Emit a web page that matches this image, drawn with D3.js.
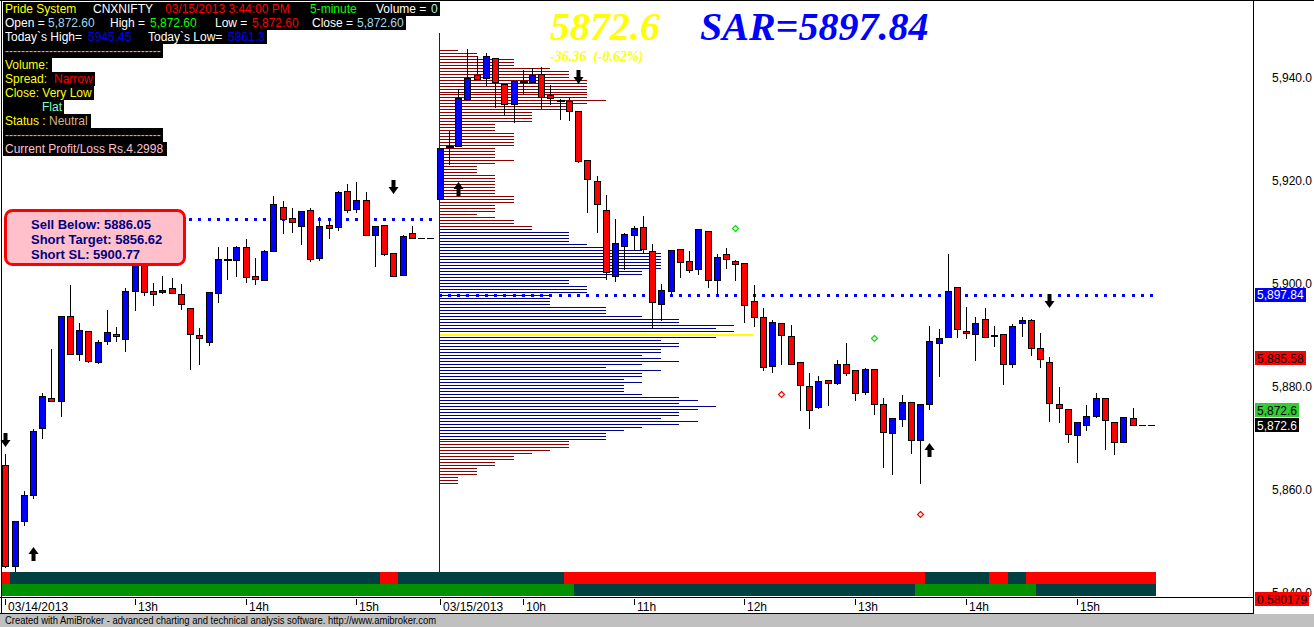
<!DOCTYPE html>
<html><head><meta charset="utf-8"><title>Pride System - CNXNIFTY</title>
<script src="https://cdn.jsdelivr.net/npm/d3@7"></script>
<style>
html,body{margin:0;padding:0;background:#fff;overflow:hidden}
svg{display:block}
text{white-space:pre}
</style></head><body>
<svg id="chart" width="1314" height="627"></svg>
<script>
// ================= DATA =================
// 5-minute bars: 03/14/2013 11:50-15:40 (47 bars) then 03/15/2013 09:15-15:40 (78 bars)
const barOpen = [
 5864.8,5845.3,5854.0,5859.0,5872.1,5877.8,5877.2,5893.8,5886.3,5890.9,
 5884.9,5889.0,5890.2,5889.3,5898.7,5906.5,5898.7,5898.5,5899.1,5898.1,
 5895.4,5890.1,5888.8,5898.3,5904.6,5904.6,5907.1,5901.6,5900.8,5906.3,
 5915.0,5912.7,5911.3,5914.4,5905.0,5911.5,5911.0,5918.1,5914.6,5916.2,
 5909.4,5911.5,5905.9,5901.8,5909.8,5908.8,5908.8,
 5916.5,5926.5,5926.8,5935.8,5940.45,5939.95,5943.85,5938.85,5934.8,5939.15,
 5939.15,5940.75,5936.55,5935.5,5935.45,5933.5,5923.95,5920.0,5914.4,5901.5,
 5907.3,5909.4,5911.0,5906.3,5896.0,5898.7,5906.7,5904.5,5902.8,5910.2,
 5900.8,5905.8,5904.5,5904.1,5896.6,5893.65,5884.0,5892.35,5889.95,5884.9,
 5880.1,5876.05,5881.3,5880.7,5884.5,5883.2,5878.95,5883.4,5876.75,5871.0,
 5873.7,5877.05,5869.8,5876.65,5888.45,5889.65,5899.3,5890.95,5890.35,5893.25,
 5889.85,5890.35,5884.5,5892.35,5893.05,5887.65,5884.9,5876.75,5875.65,5870.6,
 5872.7,5874.4,5877.95,5873.3,5869.4,5874.0,5872.6,5872.6];
const barHigh = [
 5867.0,5854.0,5859.8,5871.9,5878.8,5887.3,5893.8,5899.7,5892.5,5890.9,
 5889.1,5895.0,5891.7,5899.1,5907.5,5907.0,5900.2,5901.6,5901.2,5899.9,
 5895.4,5891.5,5898.5,5907.1,5907.1,5907.4,5908.7,5905.1,5906.6,5917.0,
 5916.0,5914.8,5914.2,5914.8,5912.9,5912.7,5918.1,5919.3,5919.7,5917.9,
 5911.3,5911.5,5905.9,5909.5,5911.3,5908.8,5908.8,
 5926.3,5929.7,5937.7,5945.45,5944.15,5944.85,5943.85,5938.85,5939.25,5941.55,
 5941.85,5942.05,5938.65,5935.85,5935.95,5933.5,5923.95,5921.0,5917.2,5912.6,
 5909.9,5911.3,5913.2,5907.7,5899.9,5906.5,5906.7,5906.3,5910.6,5910.2,
 5905.8,5906.9,5904.7,5904.1,5899.7,5895.4,5893.05,5892.35,5891.95,5884.9,
 5882.8,5882.2,5881.3,5885.3,5888.45,5883.2,5883.6,5883.4,5877.95,5873.9,
 5878.35,5877.15,5876.75,5891.75,5891.15,5905.75,5899.3,5895.5,5893.65,5895.4,
 5891.75,5890.35,5892.15,5893.65,5893.25,5890.55,5885.75,5880.05,5875.65,5873.3,
 5876.45,5878.75,5877.95,5873.3,5874.2,5876.0,5872.6,5872.6];
const barLow = [
 5845.0,5844.2,5853.2,5858.4,5870.1,5877.2,5874.4,5886.3,5885.2,5884.9,
 5884.7,5888.3,5889.0,5887.0,5895.0,5897.8,5895.9,5898.3,5898.3,5895.2,
 5883.5,5884.5,5888.1,5896.5,5901.0,5901.5,5900.4,5900.0,5900.8,5906.3,
 5909.9,5910.1,5907.7,5904.4,5904.6,5908.8,5910.4,5914.0,5914.0,5909.4,
 5903.5,5905.5,5901.6,5901.8,5908.8,5908.8,5908.8,
 5916.5,5923.3,5926.8,5935.6,5939.75,5938.65,5934.3,5933.0,5931.4,5936.75,
 5939.15,5934.1,5934.95,5931.9,5931.7,5923.65,5914.0,5910.1,5901.0,5900.6,
 5902.8,5906.5,5906.1,5891.35,5893.05,5897.6,5901.3,5902.2,5902.0,5899.3,
 5897.8,5903.0,5900.8,5892.65,5891.85,5883.2,5882.9,5884.5,5884.5,5875.55,
 5872.0,5875.85,5876.45,5880.5,5882.4,5877.55,5878.55,5874.8,5864.55,5863.05,
 5872.5,5867.1,5861.3,5875.75,5882.1,5889.65,5889.75,5889.55,5885.25,5889.65,
 5887.85,5880.55,5883.9,5889.95,5886.25,5883.9,5873.4,5873.2,5869.4,5865.5,
 5871.7,5874.1,5868.0,5867.0,5869.4,5872.6,5872.6,5872.6];
const barClose = [
 5845.3,5854.0,5859.0,5871.5,5878.2,5877.2,5893.8,5886.3,5891.1,5885.1,
 5888.8,5890.7,5889.8,5898.7,5907.0,5898.4,5898.1,5898.9,5898.3,5896.0,
 5890.3,5889.4,5898.5,5904.9,5904.6,5907.1,5901.3,5901.0,5906.4,5915.4,
 5912.5,5911.9,5914.2,5904.8,5911.3,5910.9,5917.9,5914.4,5916.2,5909.4,
 5911.3,5905.7,5901.6,5909.2,5908.8,5908.8,5908.8,
 5926.3,5926.5,5936.1,5940.0,5939.75,5944.15,5939.15,5934.8,5939.25,5939.15,
 5940.45,5936.25,5935.95,5935.5,5933.5,5923.85,5920.25,5915.4,5902.2,5907.9,
 5909.6,5910.8,5906.7,5896.4,5898.9,5906.5,5904.3,5902.6,5910.6,5900.8,
 5905.3,5904.9,5903.9,5895.8,5893.65,5883.8,5892.55,5890.15,5884.5,5880.3,
 5875.45,5881.1,5880.7,5884.5,5882.8,5878.75,5883.4,5876.65,5871.2,5873.9,
 5877.05,5869.8,5876.75,5888.85,5889.45,5898.7,5891.15,5890.55,5892.35,5889.65,
 5890.15,5884.5,5891.75,5893.05,5887.65,5885.35,5876.85,5875.85,5870.8,5873.3,
 5874.4,5877.95,5873.5,5869.4,5874.2,5872.6,5872.6,5872.6];

// day boundaries (bar index ranges) and SAR level per day
const dayStart = [0, 47];
const dayEnd = [46, 124];
const sarLevels = [5912.5, 5897.84];

// time axis
const timeLabels = ["03/14/2013","13h","14h","15h","03/15/2013","10h","11h","12h","13h","14h","15h"];
const timeLabelBars = [0,14,26,38,47,56,68,80,92,104,116];

// price axis
const priceTicks = [5940,5920,5900,5880,5860,5840];

// buy / sell arrows: bar index, direction, price at tip
const arrowBars = [0,3,42,49,62,100,113];
const arrowDirs = ["down","up","down","up","down","up","down"];
const arrowLevels = [5868.4,5849.0,5917.4,5919.8,5938.8,5869.1,5895.3];

// small diamonds
const diamondBars = [79,94,84,99];
const diamondLevels = [5910.9,5889.4,5878.7,5855.4];
const diamondColors = ["#00E000","#00E000","#FF0000","#FF0000"];

// volume-at-price profile of 03/15 (counts, listed from the top price level down)
const profileLow = 5861.3;
const profileStep = 0.580179;
const profileCounts = [
 1,2,2,4,4,4,6,7,7,7,8,8,8,8,8,8,8,9,
 8,7,7,5,5,5,5,3,3,3,4,4,4,4,4,3,3,3,3,4,3,2,2,2,3,3,3,3,3,3,3,4,4,4,3,3,3,2,3,4,4,5,
 5,7,7,7,7,8,9,11,12,12,12,12,12,12,11,11,9,7,7,8,8,8,6,6,6,6,9,9,9,11,13,13,16,15,16,17,15,
 12,13,13,12,12,11,12,13,11,9,12,11,11,10,11,10,10,10,11,13,14,13,15,14,13,13,12,14,13,11,10,9,9,9,
 7,7,7,6,5,4,4,3,3,2,2,2,1,1,1];
const valueAreaHigh = 5910.62;
const valueAreaLow = 5870.0;

// bottom ribbons (color, first bar, last bar)
const ribbonTop = [["red",0,0],["teal",1,40],["red",41,42],["teal",43,60],["red",61,99],["teal",100,106],["red",107,108],["teal",109,110],["red",111,124]];
const ribbonBottom = [["green",0,61],["teal",62,98],["green",99,111],["teal",112,124]];

// value boxes on the price axis
const valueBoxTexts = ["5,897.84","5,885.58","5,872.6","5,872.6"];
const valueBoxLevels = [5897.84,5885.58,5872.6,5872.6];
const valueBoxBg = ["#0000FF","#FF0000","#000000","#33CC33"];
const valueBoxFg = ["#FFFFFF","#000000","#FFFFFF","#000000"];

// ================= DRAW =================
const svg = d3.select("#chart");
const FONT = "'Liberation Sans', Arial, sans-serif";
svg.append("rect").attr("width",1314).attr("height",627).attr("fill","#fff");

const x = d3.scaleLinear().domain([0,124]).range([5.3,1151.06]);
const y = d3.scaleLinear().domain([5840,5940]).range([593.2,77.6]);
const cx = i => Math.round(x(i));
const yp = v => Math.round(y(v));

// ---- volume profile
const prof = profileCounts.map((c,i)=>({price: profileLow + (profileCounts.length-1-i)*profileStep, count:c}));
const poc = d3.maxIndex(prof, d=>d.count);
const px = d3.scaleLinear().domain([0,17]).range([440, 440+17*18.4]);
svg.append("g").attr("shape-rendering","crispEdges").selectAll("line").data(prof).join("line")
  .attr("x1",px(0)).attr("x2",d=>px(d.count))
  .attr("y1",d=>yp(d.price)+0.5).attr("y2",d=>yp(d.price)+0.5)
  .attr("stroke",(d,i)=> i===poc ? "#FFFF00" : (d.price>=valueAreaLow-0.05 && d.price<=valueAreaHigh+0.05) ? "#00008B" : "#8B0000")
  .attr("stroke-width",(d,i)=> i===poc ? 2 : 1);

// day separator
svg.append("line").attr("x1",439.5).attr("x2",439.5).attr("y1",33).attr("y2",572)
  .attr("stroke","#222").attr("shape-rendering","crispEdges");

// ---- SAR dotted lines
const dots = [];
sarLevels.forEach((v,d)=>{ for(let i=dayStart[d]; i<=dayEnd[d]; i++) dots.push({i, v}); });
svg.append("g").attr("shape-rendering","crispEdges").selectAll("rect").data(dots).join("rect")
  .attr("x",d=>cx(d.i)-1).attr("y",d=>yp(d.v)-1).attr("width",3).attr("height",3).attr("fill","#0000FF");

// ---- candles
const bars = barOpen.map((o,i)=>({i,o,h:barHigh[i],l:barLow[i],c:barClose[i]}));
const cg = svg.append("g").attr("shape-rendering","crispEdges");
bars.forEach(b=>{
  const X = cx(b.i);
  if (b.h === b.l) {
    cg.append("line").attr("x1",X-3).attr("x2",X+4).attr("y1",yp(b.c)+0.5).attr("y2",yp(b.c)+0.5).attr("stroke","#000");
    return;
  }
  cg.append("line").attr("x1",X+0.5).attr("x2",X+0.5).attr("y1",yp(b.h)).attr("y2",yp(b.l)+1).attr("stroke","#000");
  const top = yp(Math.max(b.o,b.c)), bot = yp(Math.min(b.o,b.c));
  if (b.o === b.c) {
    cg.append("rect").attr("x",X-3).attr("y",top-1).attr("width",8).attr("height",2).attr("fill","#000");
  } else {
    cg.append("rect").attr("x",X-2.5).attr("y",top+0.5).attr("width",6).attr("height",Math.max(bot-top,1))
      .attr("fill", b.c > b.o ? "#0000FF" : "#FF0000").attr("stroke","#000").attr("stroke-width",1);
  }
});

// ---- diamonds
svg.append("g").selectAll("path").data(diamondBars).join("path")
  .attr("d",(b,k)=>{const X=cx(b)+0.5, Y=yp(diamondLevels[k])+0.5; return `M${X},${Y-3}L${X+3},${Y}L${X},${Y+3}L${X-3},${Y}Z`;})
  .attr("fill","none").attr("stroke",(b,k)=>diamondColors[k]).attr("stroke-width",1.2);

// ---- arrows
svg.append("g").selectAll("path").data(arrowBars).join("path")
  .attr("d",(b,k)=>{
    const X=cx(b)+0.5, T=yp(arrowLevels[k]), s = arrowDirs[k]==="up" ? 1 : -1;
    return `M${X},${T}L${X+5},${T+7*s}L${X+2},${T+7*s}L${X+2},${T+14*s}L${X-2},${T+14*s}L${X-2},${T+7*s}L${X-5},${T+7*s}Z`;
  }).attr("fill","#000");

// ---- label box
const lb = svg.append("g");
lb.append("rect").attr("x",5.5).attr("y",210.5).attr("width",179).attr("height",54).attr("rx",7)
  .attr("fill","#FFC0CB").attr("stroke","#FF0000").attr("stroke-width",3);
["Sell Below: 5886.05","Short Target: 5856.62","Short SL: 5900.77"].forEach((t,k)=>{
  lb.append("text").attr("x",31).attr("y",229+k*15).text(t)
    .attr("font-family",FONT).attr("font-weight","bold").attr("font-size",13).attr("fill","#000080");
});

// ---- header info panel
const headerRows = [
 [[5,"Pride System","#FFFF00"],[93,"CNXNIFTY","#FFFFFF"],[165,"03/15/2013 3:44:00 PM","#FF0000"],[310,"5-minute","#00FF00"],[376,"Volume =","#FFFFFF"],[431,"0","#B0F0F0"]],
 [[5,"Open =","#FFFFFF"],[48,"5,872.60","#A0D8F0"],[110,"High =","#FFFFFF"],[150,"5,872.60","#00FF00"],[215,"Low =","#FFFFFF"],[252,"5,872.60","#FF0000"],[312,"Close =","#FFFFFF"],[357,"5,872.60","#A0D8F0"]],
 [[5,"Today`s High=","#FFFFFF"],[88,"5945.45","#0000FF"],[148,"Today`s Low=","#FFFFFF"],[228,"5861.3","#0000FF"]],
 [[5,"---------------------------------------","#F4A0A0"]],
 [[5,"Volume:","#FFFF00"]],
 [[5,"Spread:","#FFFF00"],[54,"Narrow","#FF0000"]],
 [[5,"Close: Very Low","#FFFF00"]],
 [[42,"Flat","#80FFD0"]],
 [[5,"Status :","#FFFF00"],[49,"Neutral","#D2B48C"]],
 [[5,"---------------------------------------","#F4A0A0"]],
 [[5,"Current Profit/Loss Rs.4.2998","#FFC0CB"]]
];
const headerRight = [437,405,265,163,52,93,93,64,91,163,167];
const hg = svg.append("g");
headerRows.forEach((row,r)=>{
  const bg = hg.append("rect").attr("x",3).attr("y",2+14*r).attr("height",14).attr("fill","#000").attr("shape-rendering","crispEdges");
  let maxR = 0;
  row.forEach(([tx,t,col])=>{
    const te = hg.append("text").attr("x",tx).attr("y",12.5+14*r).text(t)
      .attr("font-family",FONT).attr("font-size",12).attr("fill",col);
    maxR = Math.max(maxR, tx + te.node().getComputedTextLength());
  });
  bg.attr("width", Math.max(headerRight[r], maxR+2) - 3);
});

// ---- big title values
svg.append("text").attr("x",550).attr("y",40).text("5872.6")
  .attr("font-family","'Liberation Serif','Times New Roman',serif").attr("font-style","italic").attr("font-weight","bold")
  .attr("font-size",40).attr("fill","#FFFF00");
svg.append("text").attr("x",700).attr("y",40).text("SAR=5897.84")
  .attr("font-family","'Liberation Serif','Times New Roman',serif").attr("font-style","italic").attr("font-weight","bold")
  .attr("font-size",40).attr("fill","#0000FF");
svg.append("text").attr("x",550).attr("y",61).text("-36.36  (-0.62%)")
  .attr("font-family","'Liberation Serif','Times New Roman',serif").attr("font-style","italic").attr("font-weight","bold")
  .attr("font-size",14).attr("fill","#FFFF00");

// ---- ribbons
const ribbonColor = {red:"#FF0000", teal:"#004040", green:"#009000"};
[[ribbonTop,572],[ribbonBottom,584]].forEach(([runs,y0])=>{
  svg.append("g").attr("shape-rendering","crispEdges").selectAll("rect").data(runs).join("rect")
    .attr("x",d=>Math.max(2, Math.round(x(d[1])-4.62))).attr("y",y0)
    .attr("width",d=>Math.round(x(d[2])+4.62)-Math.max(2, Math.round(x(d[1])-4.62))).attr("height",12)
    .attr("fill",d=>ribbonColor[d[0]]);
});

// ---- frame lines
const fr = svg.append("g").attr("stroke","#000").attr("shape-rendering","crispEdges");
fr.append("line").attr("x1",0).attr("x2",1314).attr("y1",0.5).attr("y2",0.5);
fr.append("line").attr("x1",1.5).attr("x2",1.5).attr("y1",0).attr("y2",614);
fr.append("line").attr("x1",1253.5).attr("x2",1253.5).attr("y1",0).attr("y2",614);
fr.append("line").attr("x1",0).attr("x2",1254).attr("y1",597.5).attr("y2",597.5);
fr.append("line").attr("x1",0).attr("x2",1254).attr("y1",613.5).attr("y2",613.5);

// ---- time axis
const tg = svg.append("g");
timeLabelBars.forEach((b,k)=>{
  const X = cx(b);
  tg.append("line").attr("x1",X+0.5).attr("x2",X+0.5).attr("y1",599).attr("y2",605).attr("stroke","#000").attr("shape-rendering","crispEdges");
  tg.append("text").attr("x",X+3).attr("y",611).text(timeLabels[k]).attr("font-family",FONT).attr("font-size",12).attr("fill","#000");
});

// ---- price axis labels
const fmt = d3.format(",.1f");
svg.append("g").selectAll("text").data(priceTicks).join("text")
  .attr("x",1312).attr("y",d=>y(d)+4).attr("text-anchor","end").text(d=>fmt(d))
  .attr("font-family",FONT).attr("font-size",12).attr("fill","#000");

// ---- value boxes (later boxes are pushed up when they collide)
const vb = svg.append("g");
const placed = [];
const order = [0,1,2,3];
order.forEach(k=>{
  let c = y(valueBoxLevels[k]);
  placed.forEach(p=>{ if (Math.abs(p-c) < 14) c = p - 15; });
  placed.push(c);
  const t = vb.append("text").attr("x",1257).attr("y",c+4.5).text(valueBoxTexts[k])
    .attr("font-family",FONT).attr("font-size",12).attr("fill",valueBoxFg[k]);
  const w = t.node().getComputedTextLength();
  vb.insert("rect","text").attr("x",1255).attr("y",Math.round(c-7)).attr("width",Math.round(w+4)).attr("height",14)
    .attr("fill",valueBoxBg[k]).attr("shape-rendering","crispEdges");
});
{
  const t = vb.append("text").attr("x",1257).attr("y",603.5).text("0.580179")
    .attr("font-family",FONT).attr("font-size",12).attr("fill","#000");
  const w = t.node().getComputedTextLength();
  vb.insert("rect","text").attr("x",1255).attr("y",592).attr("width",Math.round(w+4)).attr("height",14)
    .attr("fill","#FF0000").attr("shape-rendering","crispEdges");
}

// ---- footer
svg.append("rect").attr("x",0).attr("y",614).attr("width",1314).attr("height",13).attr("fill","#C0C0C0");
svg.append("text").attr("x",5).attr("y",624).text("Created with AmiBroker - advanced charting and technical analysis software. http://www.amibroker.com")
  .attr("font-family",FONT).attr("font-size",10).attr("fill","#000").attr("textLength",431).attr("lengthAdjust","spacingAndGlyphs");
</script>
</body></html>
